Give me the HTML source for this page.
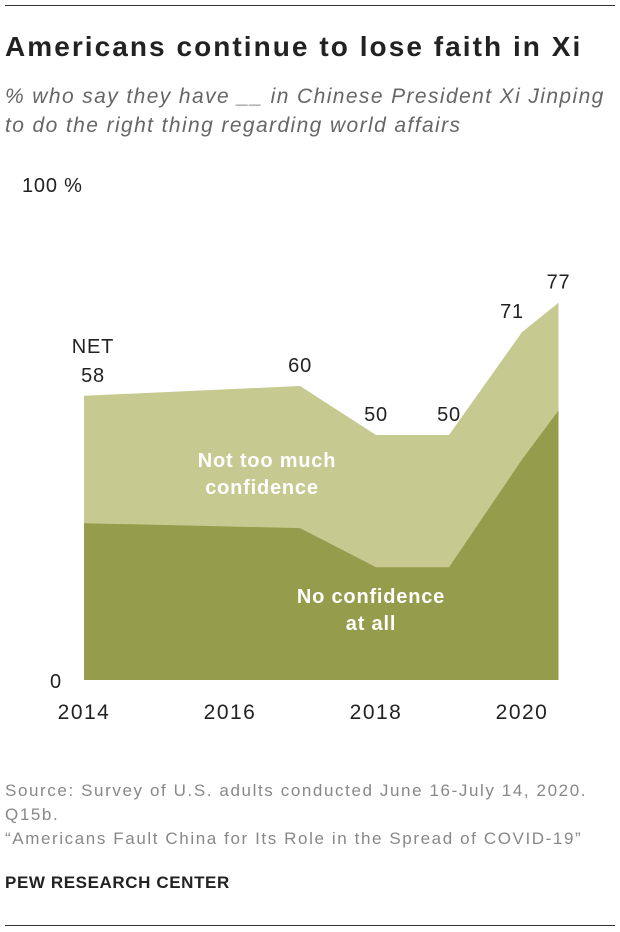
<!DOCTYPE html>
<html><head><meta charset="utf-8"><style>
body{margin:0;width:620px;height:932px;background:#fff;font-family:"Liberation Sans",sans-serif;position:relative;overflow:hidden}
.rule{position:absolute;left:5px;width:610px;height:1px;background:#333}
#title{position:absolute;left:5px;top:31px;font-size:28px;font-weight:bold;color:#222;margin:0;letter-spacing:2.05px;white-space:nowrap}
#sub{position:absolute;left:5px;top:82px;font-size:21px;font-style:italic;color:#666;line-height:29px;letter-spacing:1.4px;white-space:nowrap}
.foot{position:absolute;left:5px;font-size:17px;color:#888;letter-spacing:1.6px;white-space:nowrap}
</style></head><body>
<div class="rule" style="top:5px"></div>
<h1 id="title">Americans continue to lose faith in Xi</h1>
<div id="sub">% who say they have __ in Chinese President Xi Jinping<br>to do the right thing regarding world affairs</div>
<svg id="chart" width="620" height="760" style="position:absolute;left:0;top:0"></svg>
<div class="foot" style="top:779px;line-height:24px">Source: Survey of U.S. adults conducted June 16-July 14, 2020.<br>Q15b.<br>“Americans Fault China for Its Role in the Spread of COVID-19”</div>
<div class="foot" style="top:873px;font-weight:bold;color:#222;font-size:17px;letter-spacing:0.6px">PEW RESEARCH CENTER</div>
<div class="rule" style="top:925px"></div>
<script>
const years=[2014,2016.96,2018,2019,2020,2020.5];
const netValues=[58,60,50,50,71,77];
const noConfValues=[32,31,23,23,45,55];
const netLabels=["58","60","50","50","71","77"];
const tickYears=[2014,2016,2018,2020];
const ns="http://www.w3.org/2000/svg";
const svg=document.getElementById('chart');
const x=v=>84+(v-2014)*73;
const y=v=>680-v*4.9;
function el(t,a){const e=document.createElementNS(ns,t);for(const k in a)e.setAttribute(k,a[k]);svg.appendChild(e);return e;}
function area(vals,fill){let d='M'+x(years[0])+','+y(0);years.forEach((yr,i)=>d+=' L'+x(yr)+','+y(vals[i]));d+=' L'+x(years[years.length-1])+','+y(0)+' Z';return el('path',{d:d,fill:fill});}
const a1=area(netValues,'#c6c990');


const a2=area(noConfValues,'#959c4b');


function txt(s,xx,yy,o){const t=el('text',Object.assign({x:xx,y:yy,'font-size':20,fill:'#222','font-family':'Liberation Sans, sans-serif','text-anchor':'middle','letter-spacing':'0.8'},o||{}));t.textContent=s;return t;}
tickYears.forEach(t=>{const e=txt(String(t),x(t),719,{'font-size':21,'letter-spacing':'1.5'});

});
const l100=txt('100 %',22,192,{'text-anchor':'start'});


const l0=txt('0',50,688,{'text-anchor':'start'});


netLabels.forEach((s,i)=>{let xx=x(years[i]),yy=y(netValues[i])-14;if(i==0)xx=93;if(i==4){xx=x(years[i])-10;}
const e=txt(s,xx,yy);

});
const nl=txt('NET',93,353);


[['Not too much',267,467],['confidence',262,494]].forEach(a=>{const e=txt(a[0],a[1],a[2],{fill:'#fff','font-weight':'bold'});

});
[['No confidence',371,603],['at all',371,630]].forEach(a=>{const e=txt(a[0],a[1],a[2],{fill:'#fff','font-weight':'bold'});

});
</script>
</body></html>
